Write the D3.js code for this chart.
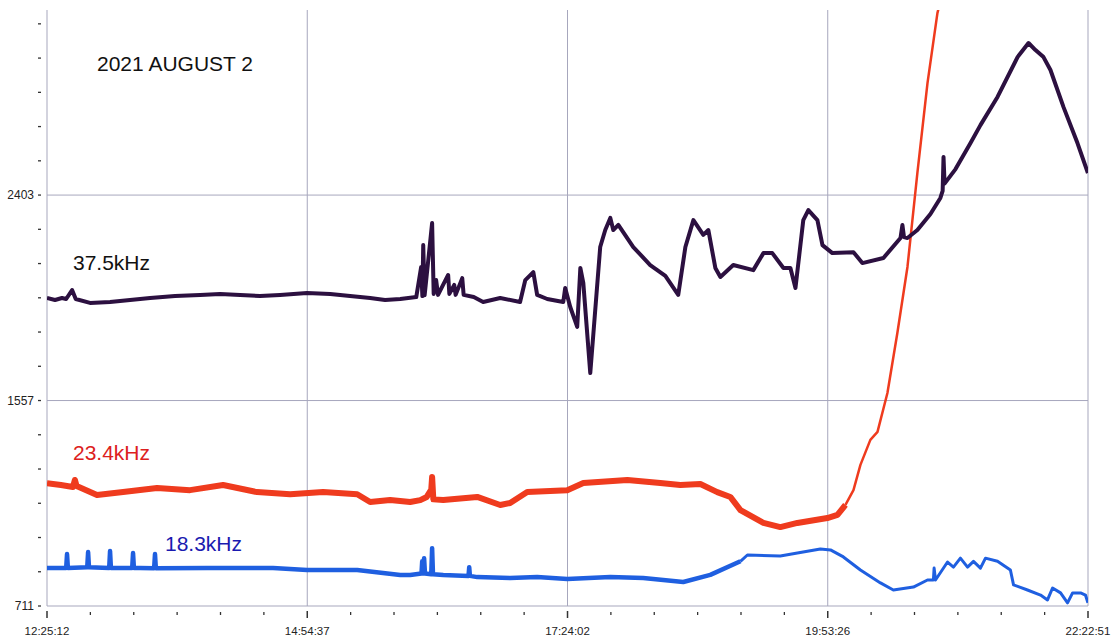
<!DOCTYPE html>
<html>
<head>
<meta charset="utf-8">
<script src="https://cdn.jsdelivr.net/npm/d3@7"></script>
<style>
  body { margin: 0; background: #fff; }
  svg { display: block; font-family: Arial, "Liberation Sans", sans-serif; }
</style>
</head>
<body>
<svg id="chart" width="1117" height="639"></svg>
<script>
// tick labels
var xTickLabels = ["12:25:12", "14:54:37", "17:24:02", "19:53:26", "22:22:51"];
var yTickLabels = [711, 1557, 2403];
var yMinorStep = 141;

// series: [minutes after 12:25:12, level]
var series37 = [
  [0,1979],[4.6,1971],[8.6,1979],[11,1975],[14.4,2012],[16.5,1975],[24.7,1959],[36.2,1963],
  [47.7,1971],[59.2,1979],[73.5,1987],[87.9,1992],[99.4,1996],[110.9,1992],[122.3,1987],
  [133.8,1992],[149.3,2000],[162.6,1996],[174,1987],[185.5,1979],[194.1,1971],[202.8,1975],
  [212,1983],[214.8,2107],[215.5,1987],[216,2197],[216.8,1990],[221.1,2288],[222,1996],
  [223.4,2053],[224.5,1992],[230.3,2074],[231,1996],[233.8,2033],[234.6,1992],[238.4,2061],
  [239.2,1992],[245,1983],[250.4,1963],[260.2,1979],[271.6,1963],[274.6,2053],[279.2,2086],
  [281.4,1992],[287.2,1975],[296.4,1963],[297.5,2020],[300.4,1942],[304.4,1860],[306.2,2103],
  [307.9,2041],[311.9,1670],[317.6,2189],[320.5,2259],[323.4,2309],[325.1,2259],[328,2280],
  [336.6,2189],[346.3,2115],[355,2070],[362.4,1992],[366.5,2189],[371.1,2300],[376.8,2239],
  [379.7,2259],[383.7,2103],[386.6,2066],[394,2115],[405.5,2094],[411.3,2164],[416.4,2164],
  [422.8,2103],[426.8,2103],[429.7,2020],[434.2,2300],[437.1,2341],[442.3,2300],[445.2,2197],
  [450.9,2164],[463,2168],[468.1,2123],[480.2,2144],[490,2226],[491.1,2280],[492,2230],
  [494,2226],[499.7,2259],[507.2,2325],[512.9,2391],[514.2,2420],[514.7,2560],[515.3,2450],
  [521.6,2510],[530.2,2617],[535.9,2691],[545.7,2807],[557.2,2971],[563.5,3029],[567.5,3000],
  [572.1,2971],[576.1,2918],[583.6,2765],[591.6,2617],[597.6,2494]
];

var series23 = [
  [0,1217],[8,1209],[14.9,1201],[16,1230],[17,1205],[28.7,1168],[43.7,1180],[63.2,1197],
  [82.1,1188],[101.1,1209],[120.6,1180],[139.6,1171],[158.5,1180],[178.1,1171],[185.5,1139],
  [197,1147],[208.5,1139],[214.3,1147],[218,1160],[220.6,1190],[221.1,1242],[221.8,1150],
  [227.5,1147],[247,1160],[260.2,1127],[265.9,1135],[275.7,1180],[298.7,1188],[307.9,1217],
  [333.2,1230],[352.1,1217],[363.6,1209],[375.1,1213],[384.8,1180],[392.3,1160],[398.1,1106],
  [411.3,1053],[421,1036],[430.8,1053],[448,1073],[453.8,1086],[458.4,1127],[463,1188],
  [467,1292],[472.7,1395],[476.8,1428],[482.5,1588],[488.2,1835],[494,2107],[499.7,2494],
  [505.5,2864],[511.2,3152],[515.8,3288]
];

var series18 = [
  [0,867],[11,867],[11.5,925],[12,867],[23.1,871],[23.6,933],[24.1,871],[35.7,867],[36.2,937],
  [36.7,867],[48.9,867],[49.4,929],[49.9,867],[53.4,867],[61.5,866],[62,925],[62.5,866],
  [91.9,867],[129.8,867],[149.3,859],[178.1,859],[202.8,839],[208.5,839],[215,845],[215.4,895],
  [216,845],[216.5,908],[217,845],[220.6,842],[221.1,949],[221.6,842],[227.5,839],[242,835],
  [242.4,871],[242.8,835],[247,830],[265.9,826],[281.4,830],[298.7,822],[323.4,830],
  [342.3,826],[365.3,810],[380.8,839],[398.1,895],[402.1,921],[421,917],[430.8,929],
  [444,946],[449.8,942],[457.2,913],[467,859],[478.5,806],[485.9,777],[497.4,789],[505.5,818],
  [508.9,818],[509.3,867],[510.1,818],[517,892],[520.4,871],[524.4,908],[528.5,871],
  [531.9,895],[535.9,867],[538.8,908],[545.7,895],[553.1,859],[554.9,798],[562.9,777],
  [570.4,756],[574.4,736],[577.3,785],[581.9,765],[585.9,724],[588.8,765],[593.4,765],
  [596.2,756],[597.6,724]
];

var width = 1117, height = 639;
var plotLeft = 47, plotRight = 1088, plotTop = 10, plotBottom = 606;

var parseTime = d3.timeParse("%H:%M:%S");
var xTicks = xTickLabels.map(parseTime);
var t0 = xTicks[0];
function toDate(m){ return new Date(t0.getTime() + m*60000); }

var x = d3.scaleTime().domain([xTicks[0], xTicks[xTicks.length-1]]).range([plotLeft, plotRight]);
var y = d3.scaleLinear().domain([711, 3165]).range([plotBottom, plotTop]);

var svg = d3.select("#chart");
svg.append("rect").attr("width", width).attr("height", height).attr("fill", "#fff");

var gridColor = "#a7a7bd";

// Grid and frame
svg.append("g").selectAll("line")
   .data(xTicks)
   .enter().append("line")
   .attr("x1", function(d){ return x(d); })
   .attr("x2", function(d){ return x(d); })
   .attr("y1", plotTop).attr("y2", plotBottom)
   .attr("stroke", gridColor).attr("stroke-width", 1);

svg.append("g").selectAll("line")
   .data(yTickLabels)
   .enter().append("line")
   .attr("x1", plotLeft).attr("x2", plotRight)
   .attr("y1", function(d){ return y(d); })
   .attr("y2", function(d){ return y(d); })
   .attr("stroke", gridColor).attr("stroke-width", 1);

// Y ticks
var yMinor = d3.range(711, 3165, yMinorStep);
var yAxis = svg.append("g");
yAxis.selectAll("line")
   .data(yMinor)
   .enter().append("line")
   .attr("x1", 38).attr("x2", 41)
   .attr("y1", function(d){ return y(d); })
   .attr("y2", function(d){ return y(d); })
   .attr("stroke", "#333").attr("stroke-width", 1.3);
yAxis.selectAll("text")
   .data(yTickLabels)
   .enter().append("text")
   .attr("x", 34)
   .attr("y", function(d){ return y(d); })
   .attr("dy", "0.35em")
   .attr("text-anchor", "end")
   .attr("font-size", 12)
   .attr("fill", "#222")
   .text(function(d){ return d; });

// X ticks
var xMinor = [];
for (var i = 0; i < xTicks.length-1; i++) {
  var a = xTicks[i].getTime(), b = xTicks[i+1].getTime();
  for (var k = 1; k < 6; k++) xMinor.push(new Date(a + (b-a)*k/6));
}
var xAxis = svg.append("g");
xAxis.selectAll("line.minor")
   .data(xMinor)
   .enter().append("line")
   .attr("class", "minor")
   .attr("x1", function(d){ return x(d); })
   .attr("x2", function(d){ return x(d); })
   .attr("y1", 612).attr("y2", 615)
   .attr("stroke", "#333").attr("stroke-width", 1.3);
xAxis.selectAll("line.major")
   .data(xTicks)
   .enter().append("line")
   .attr("class", "major")
   .attr("x1", function(d){ return x(d); })
   .attr("x2", function(d){ return x(d); })
   .attr("y1", 611).attr("y2", 618)
   .attr("stroke", "#333").attr("stroke-width", 1.5);
xAxis.selectAll("text")
   .data(xTicks)
   .enter().append("text")
   .attr("x", function(d){ return x(d); })
   .attr("y", 631)
   .attr("dy", "0.35em")
   .attr("text-anchor", "middle")
   .attr("font-size", 11.5)
   .attr("fill", "#222")
   .text(function(d){ return d3.timeFormat("%H:%M:%S")(d); });

// Lines
svg.append("clipPath").attr("id", "plotClip")
   .append("rect").attr("x", plotLeft).attr("y", plotTop)
   .attr("width", plotRight-plotLeft).attr("height", plotBottom-plotTop);

var line = d3.line()
   .x(function(d){ return x(toDate(d[0])); })
   .y(function(d){ return y(d[1]); });

var plot = svg.append("g").attr("clip-path", "url(#plotClip)");

// noisy stretches drawn thicker, the quiet ones thinner
function drawPart(data, from, to, color, w) {
  var part = data.filter(function(d){ return d[0] >= from && d[0] <= to; });
  plot.append("path").datum(part)
     .attr("d", line).attr("fill", "none")
     .attr("stroke", color).attr("stroke-width", w)
     .attr("stroke-linejoin", "round").attr("stroke-linecap", "butt");
}

drawPart(series18, 0, 400, "#1f5fe0", 4.5);
drawPart(series18, 398, 600, "#1f5fe0", 3);
drawPart(series23, 0, 458.4, "#ef3b1e", 6);
drawPart(series23, 458.4, 600, "#ef3b1e", 2.5);
drawPart(series37, 0, 600, "#2c1040", 4);

// Labels
svg.append("text").attr("x", 97).attr("y", 71)
   .attr("font-size", 21).attr("fill", "#111").text("2021 AUGUST 2");
svg.append("text").attr("x", 73).attr("y", 270)
   .attr("font-size", 21).attr("fill", "#111").text("37.5kHz");
svg.append("text").attr("x", 73).attr("y", 460)
   .attr("font-size", 21).attr("fill", "#dd2020").text("23.4kHz");
svg.append("text").attr("x", 165).attr("y", 551)
   .attr("font-size", 21).attr("fill", "#1a1ab0").text("18.3kHz");
</script>
</body>
</html>
